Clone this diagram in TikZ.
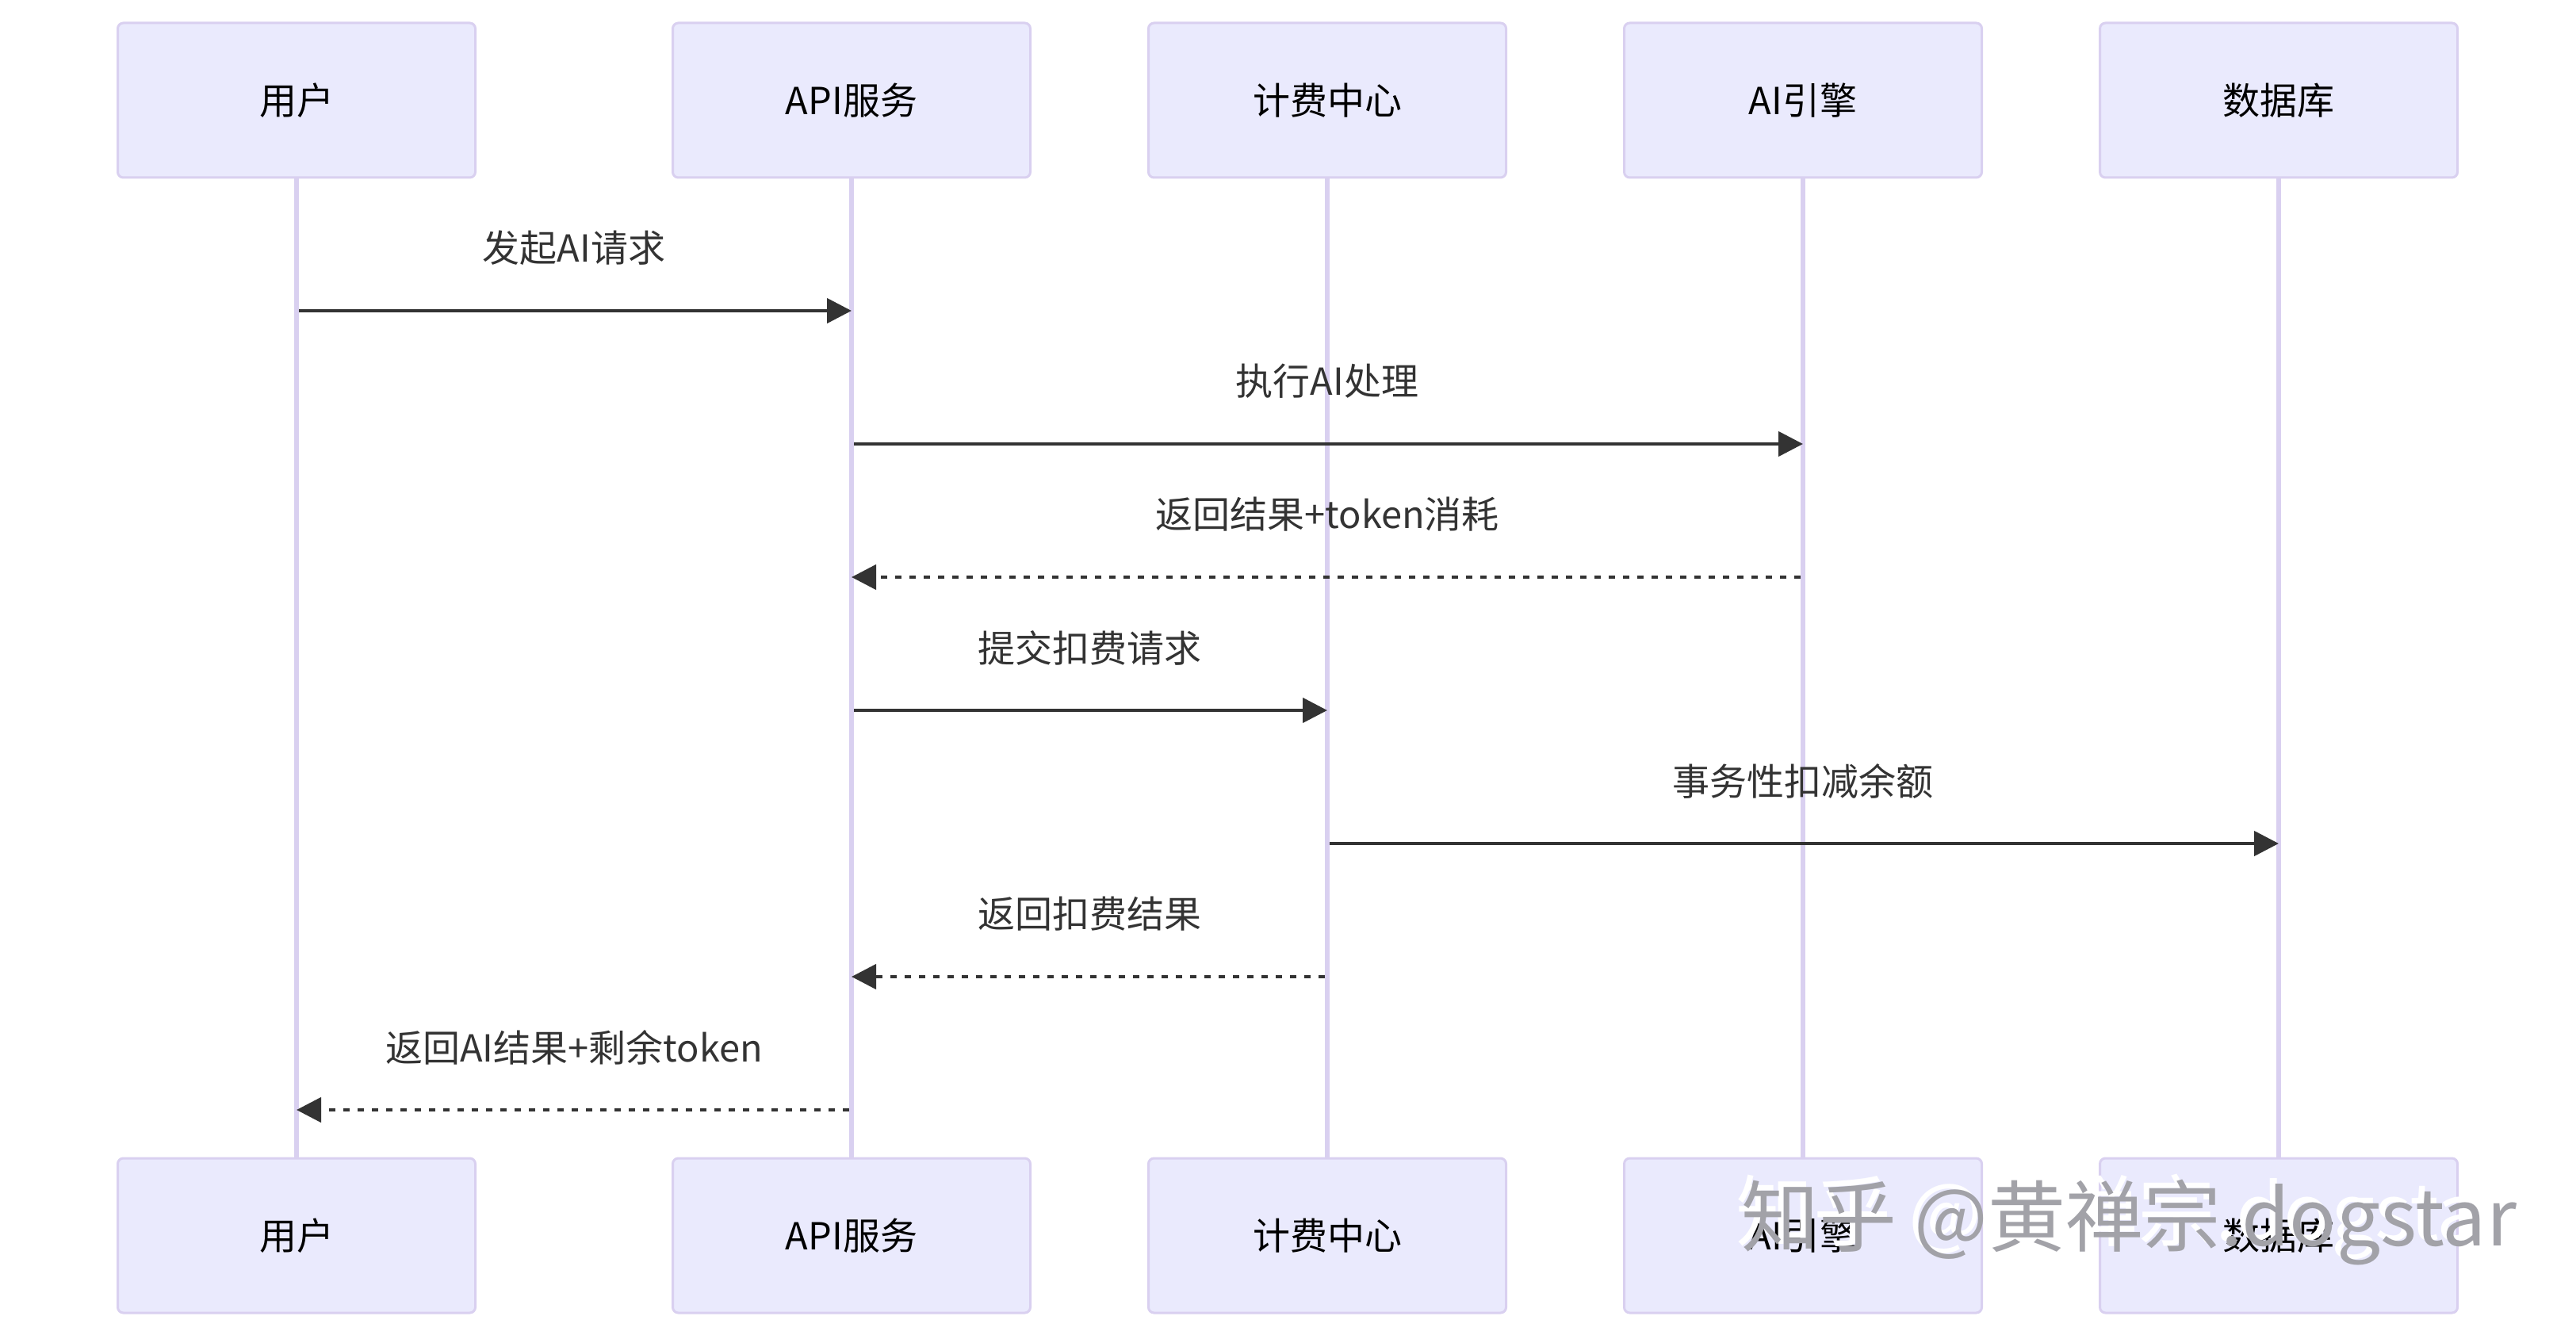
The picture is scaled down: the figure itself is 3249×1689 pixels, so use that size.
\documentclass[tikz,border=0pt]{standalone}
\usepackage{fontspec}
\setmainfont{Noto Sans CJK SC}
\usetikzlibrary{arrows.meta,calc}
\definecolor{actfill}{HTML}{EAEAFD}
\definecolor{actline}{HTML}{D9D0F0}
\definecolor{msg}{HTML}{333333}
\definecolor{wm}{HTML}{A2A2A8}
\begin{document}
\begin{tikzpicture}[x=0.5pt,y=-0.5pt,
 actor/.style={draw=actline, line width=1.5pt, fill=actfill, rounded corners=3.5pt,
   minimum width=225.5pt, minimum height=97.5pt, inner sep=0pt,
   font=\fontsize{23.5pt}{28pt}\selectfont, text=black},
 life/.style={draw=actline, line width=2.8pt},
 msgline/.style={draw=msg, line width=2.25pt, shorten <=1.5pt, -{Triangle[length=15.5pt,width=15.5pt]}},
 reply/.style={msgline, dash pattern=on 4pt off 5pt},
 lbl/.style={font=\fontsize{23.5pt}{28pt}\selectfont, text=msg, inner sep=0pt},
 wmark/.style={font=\fontsize{49pt}{58pt}\selectfont, inner sep=0pt, anchor=west}]
\useasboundingbox (0,0) rectangle (3249,1689);
\fill[white] (0,0) rectangle (3249,1689);

% top actors
\node[actor] (uT) at (374,126.5) {用户};
\node[actor] (aT) at (1074,126.5) {API服务};
\node[actor] (bT) at (1674,126.5) {计费中心};
\node[actor] (eT) at (2274,126.5) {AI引擎};
\node[actor] (dT) at (2874,126.5) {数据库};
% bottom actors
\node[actor] (uB) at (374,1558.5) {用户};
\node[actor] (aB) at (1074,1558.5) {API服务};
\node[actor] (bB) at (1674,1558.5) {计费中心};
\node[actor] (eB) at (2274,1558.5) {AI引擎};
\node[actor] (dB) at (2874,1558.5) {数据库};

% lifelines
\foreach \n in {u,a,b,e,d}{
  \draw[life] (\n T.south) -- (\n B.north);
}

% message endpoints on lifelines
\coordinate (u1) at (uT.south |- 0,392);
\coordinate (a1) at (aT.south |- 0,392);
\coordinate (a2) at (aT.south |- 0,560);
\coordinate (e2) at (eT.south |- 0,560);
\coordinate (e3) at (eT.south |- 0,728);
\coordinate (a3) at (aT.south |- 0,728);
\coordinate (a4) at (aT.south |- 0,896);
\coordinate (b4) at (bT.south |- 0,896);
\coordinate (b5) at (bT.south |- 0,1064);
\coordinate (d5) at (dT.south |- 0,1064);
\coordinate (b6) at (bT.south |- 0,1232);
\coordinate (a6) at (aT.south |- 0,1232);
\coordinate (a7) at (aT.south |- 0,1400);
\coordinate (u7) at (uT.south |- 0,1400);

% messages
\draw[msgline] (u1) -- (a1);
\node[lbl] (l1) at ($(u1)!0.5!(a1) + (0,-79)$) {发起AI请求};
\draw[msgline] (a2) -- (e2);
\node[lbl] (l2) at ($(a2)!0.5!(e2) + (0,-79)$) {执行AI处理};
\draw[reply] (e3) -- (a3);
\node[lbl] (l3) at ($(e3)!0.5!(a3) + (0,-79)$) {返回结果+token消耗};
\draw[msgline] (a4) -- (b4);
\node[lbl] (l4) at ($(a4)!0.5!(b4) + (0,-79)$) {提交扣费请求};
\draw[msgline] (b5) -- (d5);
\node[lbl] (l5) at ($(b5)!0.5!(d5) + (0,-79)$) {事务性扣减余额};
\draw[reply] (b6) -- (a6);
\node[lbl] (l6) at ($(b6)!0.5!(a6) + (0,-79)$) {返回扣费结果};
\draw[reply] (a7) -- (u7);
\node[lbl] (l7) at ($(a7)!0.5!(u7) + (0,-79)$) {返回AI结果+剩余token};

% watermark
\node[wmark, text=white] (wms) at (2189,1535) {知乎 @黄禅宗.dogstar};
\node[wmark, text=wm] (wmk) at (2196,1542) {知乎 @黄禅宗.dogstar};
\end{tikzpicture}
\end{document}
